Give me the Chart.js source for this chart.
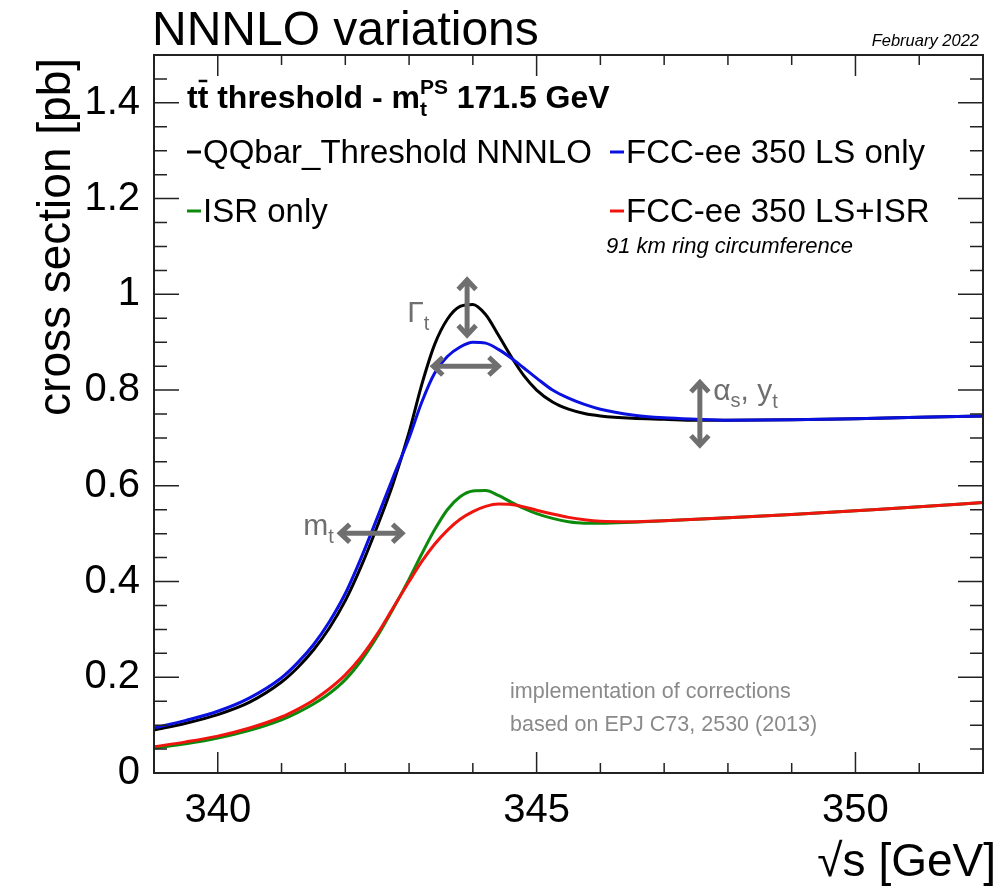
<!DOCTYPE html>
<html>
<head>
<meta charset="utf-8">
<script src="https://cdn.jsdelivr.net/npm/chart.js@4.4.1/dist/chart.umd.min.js"></script>
<style>
  html, body { margin: 0; padding: 0; background: #fff; }
  #wrap { width: 1004px; height: 888px; }
</style>
</head>
<body>
<div id="wrap"><canvas id="xsec" width="1004" height="888"></canvas></div>
<script>
// sqrt(s) grid in GeV, shared by all four curves
const sqrtS = [339, 339.5, 340, 340.5, 341, 341.25, 341.5, 341.75, 342, 342.25, 342.5, 342.75,
  343, 343.2, 343.4, 343.6, 343.8, 344, 344.2, 344.4, 344.6, 344.8, 345, 345.25,
  345.5, 345.75, 346, 346.5, 347, 347.5, 348, 349, 350, 351, 352];

// cross sections in pb
const sigmaNNNLO = [0.090, 0.104, 0.122, 0.148, 0.190, 0.220, 0.257, 0.303, 0.360, 0.432, 0.515, 0.605,
  0.712, 0.812, 0.895, 0.948, 0.975, 0.979, 0.958, 0.915, 0.870, 0.830, 0.800, 0.775,
  0.760, 0.751, 0.746, 0.741, 0.739, 0.737, 0.737, 0.738, 0.740, 0.743, 0.746];
const sigmaLS = [0.094, 0.110, 0.129, 0.157, 0.199, 0.230, 0.268, 0.316, 0.375, 0.450, 0.533, 0.618,
  0.700, 0.775, 0.835, 0.870, 0.890, 0.900, 0.898, 0.885, 0.867, 0.846, 0.825, 0.800,
  0.783, 0.770, 0.760, 0.748, 0.742, 0.739, 0.737, 0.738, 0.740, 0.743, 0.746];
const sigmaISR = [0.052, 0.061, 0.073, 0.089, 0.111, 0.126, 0.144, 0.166, 0.195, 0.235, 0.285, 0.343,
  0.405, 0.458, 0.508, 0.550, 0.577, 0.589, 0.590, 0.580, 0.566, 0.553, 0.542, 0.532,
  0.525, 0.522, 0.522, 0.524, 0.527, 0.530, 0.533, 0.540, 0.548, 0.556, 0.565];
const sigmaLSISR = [0.055, 0.065, 0.077, 0.094, 0.117, 0.133, 0.152, 0.176, 0.205, 0.243, 0.290, 0.345,
  0.400, 0.442, 0.478, 0.507, 0.530, 0.546, 0.557, 0.562, 0.561, 0.556, 0.549, 0.541,
  0.534, 0.529, 0.526, 0.525, 0.527, 0.530, 0.533, 0.540, 0.548, 0.556, 0.565];

const seriesNames = ['QQbar_Threshold NNNLO', 'FCC-ee 350 LS only', 'ISR only', 'FCC-ee 350 LS+ISR'];
const xMajor = [340, 345, 350];
const yMajor = [0, 0.2, 0.4, 0.6, 0.8, 1, 1.2, 1.4];

const FONT = '"Liberation Sans", Arial, Helvetica, sans-serif';
const GREY = '#6f6f6f';

const pts = ys => sqrtS.map((x, i) => ({ x: x, y: ys[i] }));
const line = (label, ys, color, order) => ({
  label: label, data: pts(ys), borderColor: color, backgroundColor: color,
  borderWidth: 3, pointRadius: 0, fill: false, order: order,
  cubicInterpolationMode: 'monotone'
});

// draw a run of text pieces left to right, each with its own font and vertical shift
function richText(ctx, x, y, pieces, color) {
  ctx.fillStyle = color;
  ctx.textBaseline = 'alphabetic';
  ctx.textAlign = 'left';
  for (const p of pieces) {
    ctx.font = p.font;
    ctx.fillText(p.t, x + (p.dx || 0), y + (p.dy || 0));
    if (p.bar) {
      const w = ctx.measureText(p.t).width;
      ctx.save();
      ctx.strokeStyle = color;
      ctx.lineWidth = 2.5;
      ctx.beginPath();
      ctx.moveTo(x + 1, y - 27);
      ctx.lineTo(x + w - 1, y - 27);
      ctx.stroke();
      ctx.restore();
    }
    if (!p.keep) x += ctx.measureText(p.t).width + (p.dx || 0);
  }
  return x;
}

// double-headed arrow with open chevron heads
function arrow(ctx, x1, y1, x2, y2) {
  const a = Math.atan2(y2 - y1, x2 - x1);
  const hl = 13, hw = 0.75;
  ctx.save();
  ctx.strokeStyle = GREY;
  ctx.lineWidth = 5;
  ctx.lineCap = 'butt';
  ctx.lineJoin = 'miter';
  ctx.beginPath();
  ctx.moveTo(x1, y1); ctx.lineTo(x2, y2);
  ctx.stroke();
  for (const [px, py, dir] of [[x2, y2, a], [x1, y1, a + Math.PI]]) {
    ctx.beginPath();
    ctx.moveTo(px - hl * Math.cos(dir - hw), py - hl * Math.sin(dir - hw));
    ctx.lineTo(px, py);
    ctx.lineTo(px - hl * Math.cos(dir + hw), py - hl * Math.sin(dir + hw));
    ctx.stroke();
  }
  ctx.restore();
}

const rootFrame = {
  id: 'rootFrame',
  afterDraw(chart) {
    const ctx = chart.ctx;
    const { left, right, top, bottom } = chart.chartArea;
    const xs = chart.scales.x, ys = chart.scales.y;
    ctx.save();

    // frame
    ctx.strokeStyle = '#222';
    ctx.lineWidth = 2;
    ctx.strokeRect(left, top, right - left, bottom - top);

    // inward ticks on all four sides
    ctx.lineWidth = 1.5;
    ctx.beginPath();
    for (let v = 339; v <= 352; v += 1) {
      const px = xs.getPixelForValue(v);
      const len = v % 5 === 0 ? 21 : 10;
      ctx.moveTo(px, bottom); ctx.lineTo(px, bottom - len);
      ctx.moveTo(px, top); ctx.lineTo(px, top + len);
    }
    for (let k = 0; k <= 30; k++) {
      const v = k * 0.05;
      const py = ys.getPixelForValue(v);
      const len = k % 4 === 0 ? 25 : 13;
      ctx.moveTo(left, py); ctx.lineTo(left + len, py);
      ctx.moveTo(right, py); ctx.lineTo(right - len, py);
    }
    ctx.stroke();

    // title and date
    ctx.fillStyle = '#000';
    ctx.font = '48px ' + FONT;
    ctx.textAlign = 'left';
    ctx.textBaseline = 'alphabetic';
    ctx.fillText('NNNLO variations', 152, 45);
    ctx.font = 'italic 16.5px ' + FONT;
    ctx.textAlign = 'right';
    ctx.fillText('February 2022', right - 4, 46);

    // axis titles
    ctx.font = '46px ' + FONT;
    ctx.textAlign = 'right';
    ctx.fillText('\u221As [GeV]', 996, 876);
    ctx.save();
    ctx.translate(70, top + 3);
    ctx.rotate(-Math.PI / 2);
    ctx.textAlign = 'right';
    ctx.fillText('cross section [pb]', 0, 0);
    ctx.restore();

    // process label
    const B = 'bold 32px ' + FONT, Bs = 'bold 21px ' + FONT;
    richText(ctx, 187, 108, [
      { t: 't', font: B }, { t: 't', font: B, bar: true },
      { t: ' threshold - m', font: B },
      { t: 'PS', font: Bs, dy: -14, keep: true }, { t: 't', font: Bs, dy: 8 },
      { t: '  171.5 GeV', font: B, dx: 12 }
    ], '#000');

    // legend
    const cols = [187, 610], rows = [163, 222];
    chart.data.datasets.forEach((ds, i) => {
      const cx = cols[i % 2], cy = rows[Math.floor(i / 2)];
      ctx.strokeStyle = ds.borderColor;
      ctx.lineWidth = 3;
      ctx.beginPath();
      ctx.moveTo(cx, cy - 11); ctx.lineTo(cx + 14, cy - 11);
      ctx.stroke();
      ctx.fillStyle = '#000';
      ctx.font = '33px ' + FONT;
      ctx.textAlign = 'left';
      ctx.fillText(ds.label, cx + 16, cy);
    });
    ctx.font = 'italic 22px ' + FONT;
    ctx.fillText('91 km ring circumference', 606, 253);

    // reference note
    ctx.fillStyle = '#8a8a8a';
    ctx.font = '21.5px ' + FONT;
    ctx.fillText('implementation of corrections', 510, 698);
    ctx.fillText('based on EPJ C73, 2530 (2013)', 510, 731);

    // parameter arrows
    const X = v => xs.getPixelForValue(v), Y = v => ys.getPixelForValue(v);
    arrow(ctx, X(343.91), Y(0.915), X(343.91), Y(1.03));
    arrow(ctx, X(343.38), Y(0.85), X(344.40), Y(0.85));
    arrow(ctx, X(347.56), Y(0.685), X(347.56), Y(0.816));
    arrow(ctx, X(341.92), Y(0.501), X(342.89), Y(0.501));

    const G = '30px ' + FONT, Gs = '20px ' + FONT;
    richText(ctx, X(342.97), Y(0.942), [{ t: '\u0393', font: G }, { t: 't', font: Gs, dy: 8 }], GREY);
    richText(ctx, X(347.77), Y(0.779), [
      { t: '\u03B1', font: G }, { t: 's', font: Gs, dy: 7 }, { t: ', y', font: G },
      { t: 't', font: Gs, dy: 8 }
    ], GREY);
    richText(ctx, X(341.34), Y(0.497), [{ t: 'm', font: G }, { t: 't', font: Gs, dy: 8 }], GREY);

    ctx.restore();
  }
};

new Chart(document.getElementById('xsec').getContext('2d'), {
  type: 'line',
  data: {
    datasets: [
      line(seriesNames[0], sigmaNNNLO, '#000000', 4),
      line(seriesNames[1], sigmaLS, '#0a10e0', 2),
      line(seriesNames[2], sigmaISR, '#0c8a0c', 3),
      line(seriesNames[3], sigmaLSISR, '#f0140f', 1)
    ]
  },
  options: {
    responsive: false,
    animation: false,
    layout: { padding: { top: 55, right: 21, left: 0, bottom: 0 } },
    plugins: { legend: { display: false }, tooltip: { enabled: false } },
    scales: {
      x: {
        type: 'linear', min: 339, max: 352,
        afterBuildTicks: s => { s.ticks = xMajor.map(v => ({ value: v })); },
        afterFit: s => { s.height = 115; },
        grid: { display: false, drawTicks: false },
        border: { display: false },
        ticks: { color: '#000', font: { family: FONT, size: 40 }, padding: 14, maxRotation: 0,
          callback: v => String(v) }
      },
      y: {
        type: 'linear', min: 0, max: 1.5,
        afterBuildTicks: s => { s.ticks = yMajor.map(v => ({ value: v })); },
        afterFit: s => { s.width = 154; },
        grid: { display: false, drawTicks: false },
        border: { display: false },
        ticks: { color: '#000', font: { family: FONT, size: 40 }, padding: 14,
          callback: v => String(v) }
      }
    }
  },
  plugins: [rootFrame]
});
</script>
</body>
</html>
